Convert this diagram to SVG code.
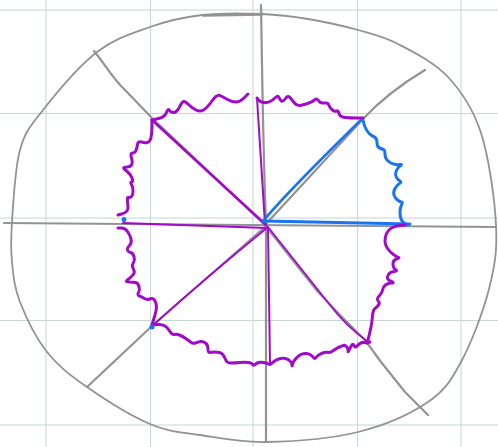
<svg xmlns="http://www.w3.org/2000/svg" width="498" height="447" viewBox="0 0 498 447">
<style>
.grid{stroke:#c6d6d2;stroke-width:1;fill:none}
.grey{stroke:#939393;fill:none;stroke-linecap:round;stroke-linejoin:round}
.pw{stroke:#a00ac8;stroke-width:3;fill:none;stroke-linecap:round;stroke-linejoin:round}
.ps{stroke:#a00ac8;fill:none;stroke-linecap:round;stroke-linejoin:round}
.bw{stroke:#1a74f0;stroke-width:3;fill:none;stroke-linecap:round;stroke-linejoin:round}
.dot{fill:#1a74f0}
</style>
<rect width="498" height="447" fill="#ffffff"/>
<g id="grid" class="grid">
<line x1="46" y1="0" x2="46" y2="447"/>
<line x1="150.5" y1="0" x2="150.5" y2="447"/>
<line x1="253" y1="0" x2="253" y2="447"/>
<line x1="357.5" y1="0" x2="357.5" y2="447"/>
<line x1="461" y1="0" x2="461" y2="447"/>
<line x1="0" y1="10" x2="498" y2="10"/>
<line x1="0" y1="113.5" x2="498" y2="113.5"/>
<line x1="0" y1="218" x2="498" y2="218"/>
<line x1="0" y1="320.5" x2="498" y2="320.5"/>
<line x1="0" y1="425" x2="498" y2="425"/>
</g>
<g id="outline" class="grey">
<path stroke-width="1.8" d="M262,14 C279.7,14.7 292,16.3 308,19 C324,21.7 343,25.8 358,30 C373,34.2 383,36.2 398,44 C413,51.8 434.2,62.2 448,77 C461.8,91.8 473,108.3 481,133 C489,157.7 494.7,199 496,225 C497.3,251 494.8,266.2 489,289 C483.2,311.8 471.2,343.2 461,362 C450.8,380.8 445.2,390.3 428,402 C410.8,413.7 385,425.3 358,432 C331,438.7 292.3,441.5 266,442 C239.7,442.5 219.3,438 200,435 C180.7,432 168.8,432 150,424 C131.2,416 104.2,399 87,387 C69.8,375 58.2,366.2 47,352 C35.8,337.8 25.8,317 20,302 C14.2,287 13.3,275.3 12,262 C10.7,248.7 10.7,240.7 12,222 C13.3,203.3 14.8,168.7 20,150 C25.2,131.3 30.2,126.3 43,110 C55.8,93.7 79.2,65.8 97,52 C114.8,38.2 132.5,33.2 150,27 C167.5,20.8 183.3,17.2 202,15 C220.7,12.8 244.3,13.3 262,14 Z"/>
<path stroke-width="2.4" d="M203,15.5 L262,14.5"/>
</g>
<g id="connectors">
<g class="grey" stroke-width="2.2">
<path d="M4,223 L496,227"/>
<path d="M261,5 C262,60 263,150 266,222 L266,442"/>
<path d="M94,51 C105,64 112,78 125,90 L152,118 L265,225"/>
<path d="M265,225 L363,119 C375,106 395,88 425,70"/>
<path d="M266,226 L152,326 L87,387"/>
<path d="M268,229 L318,292 L345,320 L365,340 L381,362 L405,392 L428,415"/>
</g>
<g class="ps">
<path stroke-width="2" d="M265,224 L257,98"/>
<path stroke-width="2.6" d="M266,225 L152,120"/>
<path stroke-width="2" d="M267,228 L123,223"/>
<path stroke-width="1.8" d="M268,227 C230,258 190,292 152,326"/>
<path stroke-width="2" d="M268,228 L270,363"/>
<path stroke-width="1.8" d="M268,227 L330,305 Q345,325 368,342"/>
</g>
<g class="bw">
<path stroke-width="2.6" d="M264,220 C285,195 320,160 363,118"/>
<path stroke-width="3" d="M264,221 L410,224"/>
</g>
</g>
<g id="waves">
<path id="w-tl-top" class="pw" d="M152,120 L158.5,118.5 Q165,117 166.5,112.5 Q168,108 169.5,110.5 Q171,113 174,112.5 Q177,112 179.5,107 Q182,102 183.5,101.5 Q185,101 188.5,104.5 Q192,108 196,110 Q200,112 203.5,110 Q207,108 212,101 Q217,94 220,95.5 Q223,97 227.5,99.5 Q232,102 236,102 Q240,102 244,98 L248,94"/>
<path id="w-top-tr" class="pw" d="M257,98 L258.5,100 Q260,102 263.5,102.5 Q267,103 270,101.5 Q273,100 275.5,97.5 Q278,95 279,97.5 Q280,100 281.5,101 Q283,102 285.5,98.5 Q288,95 290,97.5 Q292,100 294.5,103 Q297,106 300,105.5 Q303,105 307.5,103.5 Q312,102 314.5,100 Q317,98 318.5,100.5 Q320,103 322.5,103 Q325,103 326.5,103 Q328,103 329,105.5 Q330,108 332.5,110 Q335,112 336.5,111 Q338,110 339,113.5 Q340,117 345,117.5 Q350,118 356.5,118 L363,118"/>
<path id="w-tr-r" class="bw" d="M363,120 L364,124 Q365,128 367.5,131.5 Q370,135 373.5,136.5 Q377,138 377,142.5 Q377,147 379.5,148 Q382,149 383.5,149.5 Q385,150 385,154 Q385,158 387.5,160.5 Q390,163 393.5,164 Q397,165 400,164.5 Q403,164 400,166 Q397,168 396,171.5 Q395,175 396.5,177.5 Q398,180 400,181 Q402,182 399.5,183.5 Q397,185 395,188.5 Q393,192 394,195 Q395,198 397.5,200 Q400,202 401.5,202 Q403,202 401.5,205 Q400,208 400,212.5 Q400,217 401.5,220 Q403,223 405.5,224 L408,225"/>
<path id="w-r-br" class="pw" d="M405,225 L400,225.5 Q395,226 391.5,228 Q388,230 386.5,233.5 Q385,237 385,241 Q385,245 387.5,248.5 Q390,252 393.5,254.5 Q397,257 398.5,257.5 Q400,258 396.5,259 Q393,260 393,264 Q393,268 395.5,269.5 Q398,271 394,271.5 Q390,272 388.5,274.5 Q387,277 387.5,278.5 Q388,280 391.5,281.5 Q395,283 391.5,283 Q388,283 385.5,285 Q383,287 382.5,290 Q382,293 380,295 Q378,297 377.5,298.5 Q377,300 378.5,301.5 Q380,303 378.5,305 Q377,307 375,308.5 Q373,310 372.5,316 Q372,322 371,327 Q370,332 369,336 Q368,340 367.5,341.5 L367,343"/>
<path id="w-br-b" class="pw" d="M370,342 L368.5,342.5 Q367,343 364.5,342.5 Q362,342 360,343.5 Q358,345 356.5,346.5 Q355,348 354,345.5 Q353,343 351.5,345.5 Q350,348 349,350.5 Q348,353 348,350.5 Q348,348 346.5,346.5 Q345,345 343.5,345.5 Q342,346 339.5,347 Q337,348 333.5,350.5 Q330,353 328.5,352.5 Q327,352 324.5,352.5 Q322,353 319.5,354.5 Q317,356 316,357.5 Q315,359 314,358 Q313,357 311.5,355.5 Q310,354 306.5,353.5 Q303,353 300,355 Q297,357 295,359.5 Q293,362 292.5,364.5 Q292,367 292,365 Q292,363 290,361 Q288,359 285.5,358.5 Q283,358 280.5,358.5 Q278,359 275.5,360.5 Q273,362 271.5,363.5 Q270,365 268.5,364 Q267,363 263.5,362.5 Q260,362 258.5,362.5 Q257,363 255,364.5 Q253,366 252.5,364.5 Q252,363 248.5,362.5 Q245,362 240,362.5 Q235,363 231,363 Q227,363 226,360.5 Q225,358 223.5,355.5 Q222,353 219.5,352.5 Q217,352 214.5,352 Q212,352 210,352.5 Q208,353 208,349 Q208,345 205.5,343 Q203,341 200.5,341.5 Q198,342 195.5,343 Q193,344 190.5,342 Q188,340 185,338 Q182,336 179.5,335 Q177,334 174.5,334.5 Q172,335 170,331.5 Q168,328 165,326 Q162,324 157,324.5 L152,325"/>
<path id="w-bl-l" class="pw" d="M152,325 L153.5,320 Q155,315 156,311 Q157,307 156,303.5 Q155,300 153.5,299 Q152,298 149.5,299 Q147,300 144.5,298.5 Q142,297 139.5,296 Q137,295 138.5,292.5 Q140,290 139,286.5 Q138,283 135.5,282.5 Q133,282 129,282 Q125,282 127.5,280 Q130,278 132.5,275.5 Q135,273 134,270.5 Q133,268 132.5,266.5 Q132,265 133.5,262.5 Q135,260 134,256.5 Q133,253 130.5,252.5 Q128,252 127.5,250 Q127,248 129.5,245.5 Q132,243 131,239 Q130,235 127.5,231.5 Q125,228 121.5,228 L118,228"/>
<path id="w-l-tl" class="pw" d="M118,215 L121.5,214 Q125,213 126.5,211.5 Q128,210 128,207.5 Q128,205 127.5,201 Q127,197 128.5,197.5 Q130,198 131.5,196.5 Q133,195 133,191 Q133,187 131.5,184.5 Q130,182 131.5,182 Q133,182 132.5,179.5 Q132,177 130,174.5 Q128,172 125.5,170 Q123,168 124,167.5 Q125,167 127.5,167 Q130,167 131.5,165 Q133,163 131.5,158 Q130,153 132.5,153 Q135,153 136,150.5 Q137,148 137.5,144.5 Q138,141 141.5,142 Q145,143 147.5,142.5 Q150,142 151,137.5 Q152,133 152,126.5 L152,120"/>
</g>
<g id="points">
<circle class="dot" cx="124" cy="219.5" r="2.5"/>
<circle class="dot" cx="152" cy="327" r="2.5"/>
<circle class="dot" cx="264" cy="221" r="2.2"/>
</g>
</svg>
